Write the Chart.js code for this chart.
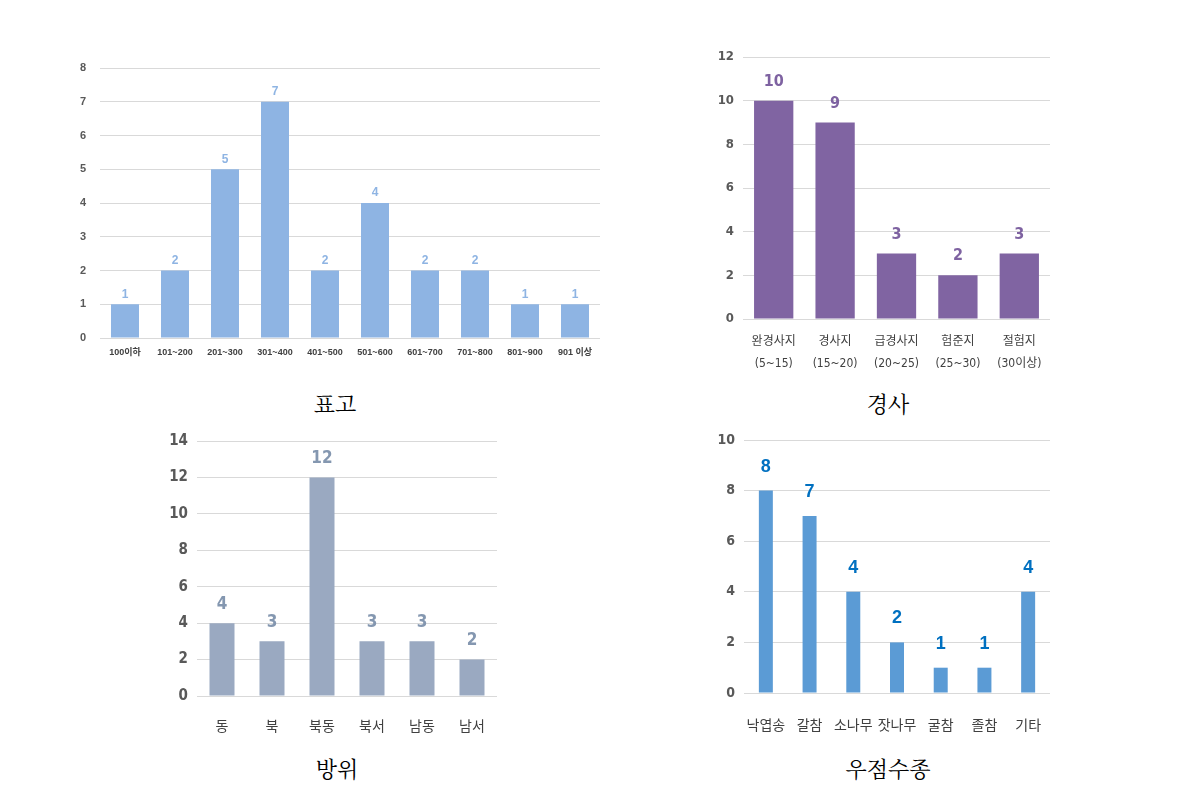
<!DOCTYPE html>
<html>
<head>
<meta charset="utf-8">
<script src="https://cdn.jsdelivr.net/npm/chart.js@4"></script>
<style>
  body { margin: 0; background: #fff; width: 1191px; height: 788px; position: relative; overflow: hidden; }
  .box { position: absolute; }
  .title { position: absolute; font-family: 'Noto Serif CJK KR', 'Noto Sans CJK KR', serif; font-size: 22px; color: #000; transform: translate(-50%, -50%); white-space: nowrap; }
</style>
</head>
<body>
<div class="box" style="left:60px;top:50px;width:550px;height:330px"><canvas id="chartElev"></canvas></div>
<div class="box" style="left:700px;top:40px;width:360px;height:340px"><canvas id="chartSlope"></canvas></div>
<div class="box" style="left:160px;top:425px;width:350px;height:320px"><canvas id="chartAspect"></canvas></div>
<div class="box" style="left:700px;top:425px;width:360px;height:320px"><canvas id="chartTree"></canvas></div>
<div class="title" style="left:335px;top:402px">표고</div>
<div class="title" style="left:888px;top:402px">경사</div>
<div class="title" style="left:337px;top:767px">방위</div>
<div class="title" style="left:888px;top:767px">우점수종</div>
<script>
  // 표고
  const elevLabels = ['100이하', '101~200', '201~300', '301~400', '401~500', '501~600', '601~700', '701~800', '801~900', '901 이상'];
  const elevValues = [1, 2, 5, 7, 2, 4, 2, 2, 1, 1];

  // 경사
  const slopeLabels = [['완경사지', '(5~15)'], ['경사지', '(15~20)'], ['급경사지', '(20~25)'], ['험준지', '(25~30)'], ['절험지', '(30이상)']];
  const slopeValues = [10, 9, 3, 2, 3];

  // 방위
  const aspectLabels = ['동', '북', '북동', '북서', '남동', '남서'];
  const aspectValues = [4, 3, 12, 3, 3, 2];

  // 우점수종
  const treeLabels = ['낙엽송', '갈참', '소나무', '잣나무', '굴참', '졸참', '기타'];
  const treeValues = [8, 7, 4, 2, 1, 1, 4];

  const narrow = "'DejaVu Sans Condensed', 'Noto Sans CJK KR', sans-serif";
  const sans = "'Liberation Sans', 'Noto Sans CJK KR', sans-serif";

  // value labels above bars
  const valueLabels = {
    id: 'valueLabels',
    afterDatasetsDraw(chart, args, options) {
      const { ctx } = chart;
      const meta = chart.getDatasetMeta(0);
      const values = chart.data.datasets[0].data;
      ctx.save();
      ctx.font = options.font;
      ctx.fillStyle = options.color;
      ctx.textAlign = 'center';
      ctx.textBaseline = 'middle';
      meta.data.forEach((bar, i) => {
        ctx.fillText(values[i], bar.x, bar.y - options.offset);
      });
      ctx.restore();
    }
  };

  function makeConfig(labels, values, o) {
    return {
      type: 'bar',
      data: {
        labels: labels,
        datasets: [{
          data: values,
          backgroundColor: o.color,
          categoryPercentage: 1,
          barPercentage: o.barPct,
        }]
      },
      options: {
        responsive: true,
        maintainAspectRatio: false,
        animation: false,
        layout: { padding: o.padding },
        plugins: {
          legend: { display: false },
          tooltip: { enabled: false },
          valueLabels: { font: o.valueFont, color: o.valueColor, offset: o.valueOffset }
        },
        scales: {
          x: {
            grid: { display: false },
            border: { display: false },
            ticks: { font: o.xFont, color: o.xColor, padding: o.xPad, maxRotation: 0, autoSkip: false },
            afterFit(scale) { scale.height = o.xHeight; scale.paddingLeft = 0; scale.paddingRight = 0; }
          },
          y: {
            min: 0,
            max: o.max,
            ticks: { stepSize: o.step, font: o.yFont, color: '#595959', padding: o.yPad },
            grid: { color: '#D9D9D9', drawTicks: false },
            border: { display: false },
            afterFit(scale) { scale.width = o.yWidth; scale.paddingTop = 0; scale.paddingBottom = 0; }
          }
        }
      },
      plugins: [valueLabels]
    };
  }

  const configElev = makeConfig(elevLabels, elevValues, {
    color: '#8EB4E3', barPct: 0.56,
    padding: { top: 18, right: 10, bottom: 0, left: 0 },
    valueFont: 'bold 12px ' + sans, valueColor: '#8EB4E3', valueOffset: 10,
    xFont: { family: sans, size: 9, weight: 'bold' }, xColor: '#404040', xPad: 1, xHeight: 42,
    yFont: { family: sans, size: 11, weight: 'bold' }, yPad: 14, yWidth: 40,
    max: 8, step: 1
  });

  const configSlope = makeConfig(slopeLabels, slopeValues, {
    color: '#8064A2', barPct: 0.64,
    padding: { top: 17, right: 10, bottom: 0, left: 0 },
    valueFont: 'bold 16px ' + narrow, valueColor: '#7E62A1', valueOffset: 19,
    xFont: { family: narrow, size: 12, lineHeight: 1.8 }, xColor: '#404040', xPad: 4, xHeight: 61,
    yFont: { family: narrow, size: 13, weight: 'bold' }, yPad: 9, yWidth: 43,
    max: 12, step: 2
  });

  const configAspect = makeConfig(aspectLabels, aspectValues, {
    color: '#9AA9C1', barPct: 0.5,
    padding: { top: 16, right: 13, bottom: 0, left: 0 },
    valueFont: 'bold 17px ' + narrow, valueColor: '#8497B0', valueOffset: 19,
    xFont: { family: narrow, size: 14 }, xColor: '#404040', xPad: 15, xHeight: 49,
    yFont: { family: narrow, size: 15, weight: 'bold' }, yPad: 9, yWidth: 37,
    max: 14, step: 2
  });

  const configTree = makeConfig(treeLabels, treeValues, {
    color: '#5B9BD5', barPct: 0.32,
    padding: { top: 15, right: 10, bottom: 0, left: 0 },
    valueFont: 'bold 18px ' + sans, valueColor: '#0070C0', valueOffset: 24,
    xFont: { family: narrow, size: 14 }, xColor: '#404040', xPad: 17, xHeight: 52,
    yFont: { family: narrow, size: 14, weight: 'bold' }, yPad: 9, yWidth: 44,
    max: 10, step: 2
  });

  const myChartElev = new Chart(document.getElementById('chartElev'), configElev);
  const myChartSlope = new Chart(document.getElementById('chartSlope'), configSlope);
  const myChartAspect = new Chart(document.getElementById('chartAspect'), configAspect);
  const myChartTree = new Chart(document.getElementById('chartTree'), configTree);
</script>
</body>
</html>
